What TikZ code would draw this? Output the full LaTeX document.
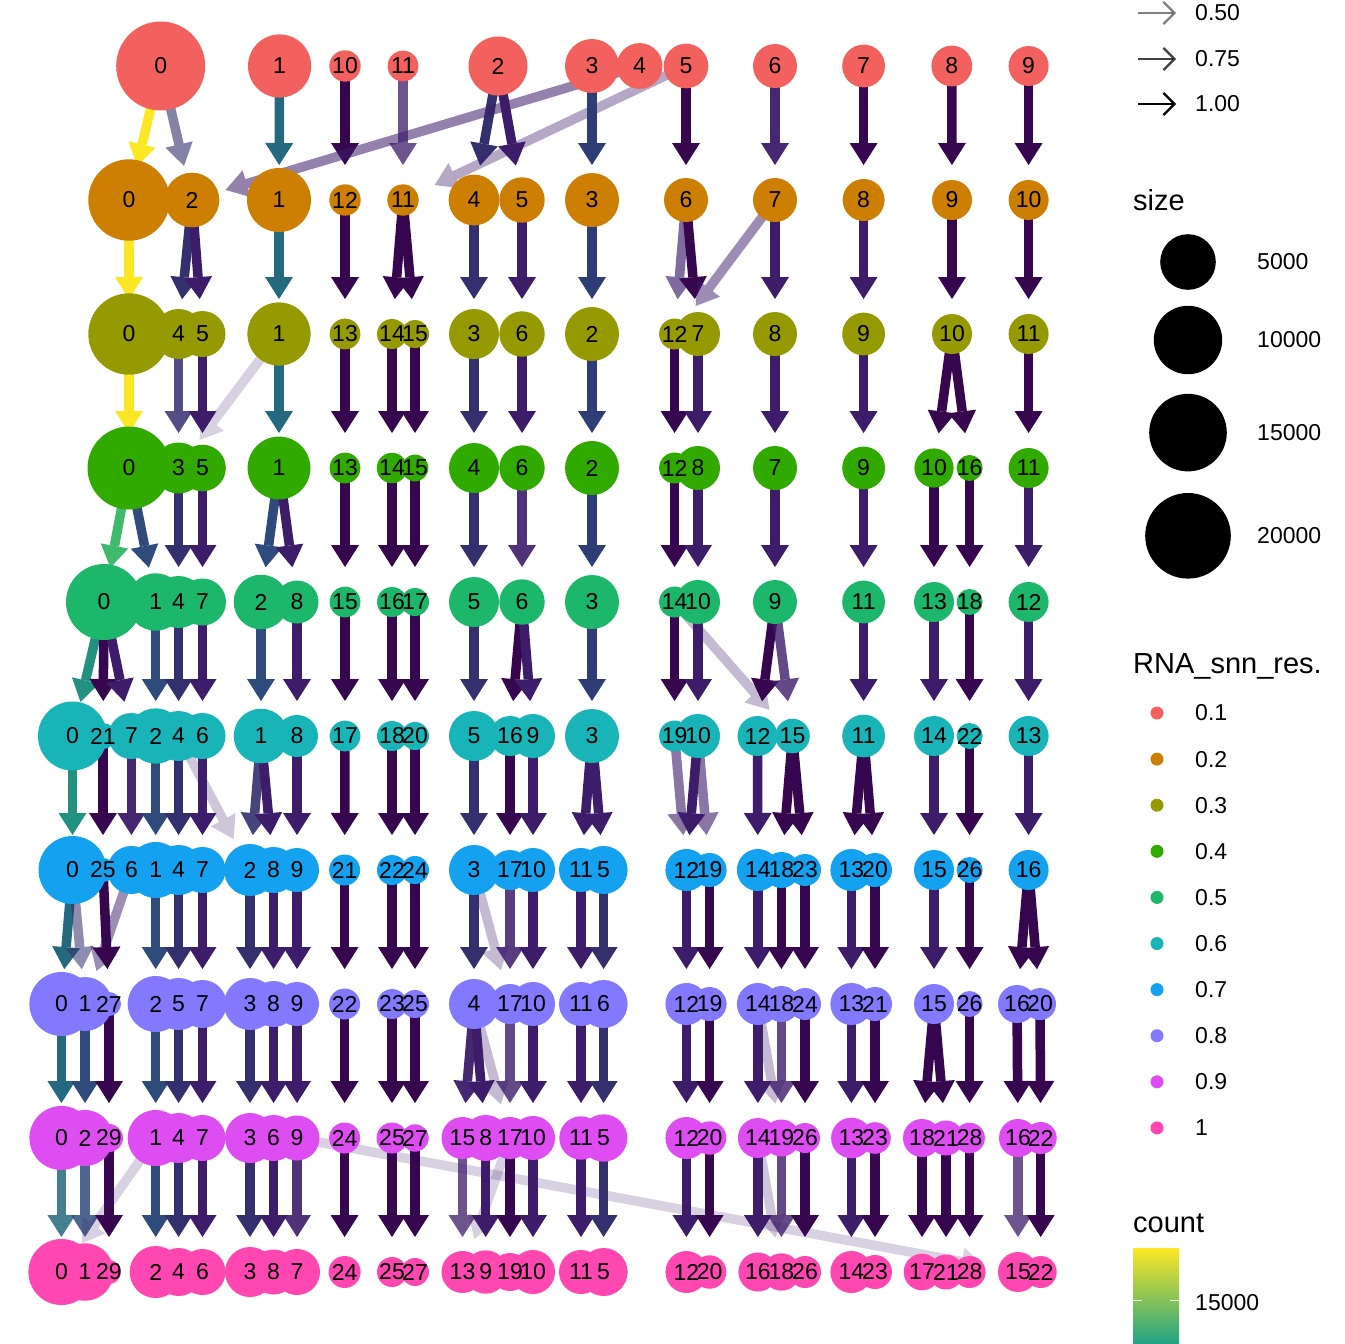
\documentclass[tikz,border=0pt]{standalone}
\usepackage{fontspec}
\setmainfont{Liberation Sans}
\usetikzlibrary{arrows.meta}

% node colours, one per resolution
\definecolor{res1}{HTML}{F2615D}
\definecolor{res2}{HTML}{CD7F04}
\definecolor{res3}{HTML}{959A03}
\definecolor{res4}{HTML}{31AA00}
\definecolor{res5}{HTML}{1DB76C}
\definecolor{res6}{HTML}{19B4B8}
\definecolor{res7}{HTML}{14A1F0}
\definecolor{res8}{HTML}{8379FF}
\definecolor{res9}{HTML}{DE4DF1}
\definecolor{res10}{HTML}{FE47B1}
% edge colours (count)
\definecolor{ecY}{HTML}{FDE725}
\definecolor{ecG}{HTML}{3FBA6C}
\definecolor{ecT}{HTML}{22917F}
\definecolor{ecTd}{HTML}{24697D}
\definecolor{ecB}{HTML}{2E4B7C}
\definecolor{ecBi}{HTML}{2F3D77}
\definecolor{ecV}{HTML}{34306E}
\definecolor{ecP}{HTML}{3D1C6A}
\definecolor{ecD}{HTML}{36064E}
\definecolor{barmid}{HTML}{5CC863}
\definecolor{barlow}{HTML}{20A386}

\pgfdeclarelayer{edgelayer}
\pgfdeclarelayer{textlayer}
\pgfsetlayers{edgelayer,main,textlayer}

\tikzset{
  clu/.style={circle, draw=none, inner sep=0pt, minimum size=2*#1*1pt},
  lnk/.style={line width=9.5pt, shorten >=35pt, -{Triangle[length=22pt,width=28pt,line width=0pt]}},
  num/.style={inner sep=0pt, font=\fontsize{23}{23}\selectfont},
  leg/.style={inner sep=0pt, anchor=west, font=\fontsize{23}{23}\selectfont},
  ttl/.style={inner sep=0pt, anchor=base west, font=\fontsize{29}{29}\selectfont}
}

\begin{document}
\begin{tikzpicture}[x=1pt, y=-1pt]
\useasboundingbox (0,0) rectangle (1344,1344);

% res 0.1
\foreach \n/\x/\r in {0/160.7/44.5, 1/279.6/31.6, 10/345/15.7, 11/403/15.4, 2/498/29.5, 3/592/27, 4/639.6/22.9, 5/686/22.3, 6/775/22, 7/863.6/21.4, 8/951.8/20.4, 9/1028.6/20}{
  \node[clu=\r, fill=res1] (a\n) at (\x,66) {};
  \begin{pgfonlayer}{textlayer}\node[num] (ta\n) at (a\n) {\n};\end{pgfonlayer}
}
% res 0.2
\foreach \n/\x/\r in {0/129/40.7, 2/192/27.3, 1/279/32, 12/345/15.7, 11/403/15.7, 4/474/25.4, 5/522/22.7, 3/592/27, 6/686/22, 7/775/22, 8/863.6/21, 9/952/20, 10/1028.6/20}{
  \node[clu=\r, fill=res2] (b\n) at (\x,200) {};
  \begin{pgfonlayer}{textlayer}\node[num] (tb\n) at (b\n) {\n};\end{pgfonlayer}
}
% res 0.3
\foreach \n/\x/\r in {0/129/40.7, 4/178.6/25, 5/202.5/23, 1/279/31.6, 13/345/15.4, 14/392/15, 15/415/14, 3/474/25, 6/522/22.7, 2/592/27, 12/674.6/15.5, 7/698/22, 8/775/22, 9/863.6/21.4, 10/952/20, 11/1028.6/20}{
  \node[clu=\r, fill=res3] (c\n) at (\x,334) {};
  \begin{pgfonlayer}{textlayer}\node[num] (tc\n) at (c\n) {\n};\end{pgfonlayer}
}
% res 0.4
\foreach \n/\x/\r in {0/129/41.5, 3/178.6/25.5, 5/202.5/23.3, 1/279/31.4, 13/345/15.4, 14/392/15.2, 15/415/13.4, 4/474/25, 6/522/22.7, 2/592/27, 12/674.6/15.5, 8/698/22, 7/775/22, 9/863.6/21.4, 10/934/19.6, 16/969.6/13, 11/1028.6/20}{
  \node[clu=\r, fill=res4] (d\n) at (\x,468) {};
  \begin{pgfonlayer}{textlayer}\node[num] (td\n) at (d\n) {\n};\end{pgfonlayer}
}
% res 0.5
\foreach \n/\x/\r in {0/104/38, 1/155.7/28.7, 4/178.6/26, 7/202.5/23.5, 2/261/27.3, 8/297/21.5, 15/345/15.4, 16/392/15, 17/415/14, 5/474/25, 6/522/22.7, 3/592/27, 14/674.6/15.5, 10/698/22, 9/775/22, 11/863.6/21.4, 13/934/20, 18/969.6/13, 12/1028.6/20}{
  \node[clu=\r, fill=res5] (e\n) at (\x,602) {};
  \begin{pgfonlayer}{textlayer}\node[num] (te\n) at (e\n) {\n};\end{pgfonlayer}
}
% res 0.6
\foreach \n/\x/\r in {0/72.5/34.5, 21/103/13, 7/131.4/23, 2/155.7/27.7, 4/178.6/25, 6/202.5/23, 1/261/27.3, 8/297/21, 17/345/15.4, 18/392/15, 20/415/14, 5/474/25, 16/510/20, 9/533/22, 3/592/27, 19/674.6/15.5, 10/698/22, 12/757.5/20, 15/792.5/17.3, 11/863.6/21.4, 14/934/20, 22/969.6/13, 13/1028.6/20}{
  \node[clu=\r, fill=res6] (f\n) at (\x,736) {};
  \begin{pgfonlayer}{textlayer}\node[num] (tf\n) at (f\n) {\n};\end{pgfonlayer}
}
% res 0.7
\foreach \n/\x/\r in {0/72.5/34, 25/103/12, 6/131.4/24, 1/155.7/28, 4/178.6/25, 7/202.5/23, 2/250/26, 8/273.6/23, 9/297/22, 21/344.6/15.5, 22/392/15, 24/415/14, 3/474/25, 17/510/20, 10/533/22, 11/581/22, 5/603.6/24, 12/686.4/21, 19/709.6/17, 14/757.9/21, 18/781.4/18, 23/805/16, 13/851.4/21, 20/875/17, 15/934/20, 26/969.6/13, 16/1028.6/20}{
  \node[clu=\r, fill=res7] (g\n) at (\x,870) {};
  \begin{pgfonlayer}{textlayer}\node[num] (tg\n) at (g\n) {\n};\end{pgfonlayer}
}
% res 0.8
\foreach \n/\x/\r in {0/61.4/32, 1/85/27, 27/109/12, 2/155.7/28, 5/178.6/26, 7/202.5/24, 3/250/26, 8/273.6/23, 9/297/22, 22/344.6/15.5, 23/392/15, 25/415/14, 4/474/25, 17/510/20, 10/533/22, 11/581/22, 6/603.6/24, 12/686.4/21, 19/709.6/17, 14/757.9/21, 18/781.4/18, 24/805/16, 13/851.4/21, 21/875/17, 15/934/20, 26/969.6/13, 16/1017/19, 20/1040/16}{
  \node[clu=\r, fill=res8] (h\n) at (\x,1004) {};
  \begin{pgfonlayer}{textlayer}\node[num] (th\n) at (h\n) {\n};\end{pgfonlayer}
}
% res 0.9
\foreach \n/\x/\r in {0/61.4/32, 2/85/28, 29/109/14, 1/155.7/28, 4/178.6/25, 7/202.5/23, 3/250/25, 6/273.6/23, 9/297/22.5, 24/344.6/15.5, 25/392/15.5, 27/415/13.7, 15/462.5/21, 8/485.7/23, 17/510/21, 10/533/22, 11/581/21.7, 5/603.6/23.7, 12/686.4/21, 20/709.6/16.7, 14/757.9/20, 19/781.4/18.5, 26/805/15, 13/851.4/20.3, 23/875/15.8, 18/922/19, 21/946/17.5, 28/969.6/15.3, 16/1018/19, 22/1040.7/16}{
  \node[clu=\r, fill=res9] (i\n) at (\x,1138) {};
  \begin{pgfonlayer}{textlayer}\node[num] (ti\n) at (i\n) {\n};\end{pgfonlayer}
}
% res 1
\foreach \n/\x/\r in {0/61.4/33, 1/85/28.7, 29/109/12, 2/155.7/26, 4/178.6/24, 6/202.5/23, 3/250/25, 8/273.6/22.5, 7/297/23, 24/344.6/16, 25/392/15, 27/415/14, 13/462.5/21, 9/485.7/21.7, 19/510/19, 10/533/22, 11/581/22, 5/603.6/24, 12/686.4/21, 20/709.6/16.7, 16/757.9/19.5, 18/781.4/18.7, 26/805/16, 14/851.4/21, 23/875/17, 17/922/18.3, 21/946/17.5, 28/969.6/16, 15/1018/20, 22/1040.7/16}{
  \node[clu=\r, fill=res10] (j\n) at (\x,1272) {};
  \begin{pgfonlayer}{textlayer}\node[num] (tj\n) at (j\n) {\n};\end{pgfonlayer}
}

% edges: source/target/colour/opacity
\begin{pgfonlayer}{edgelayer}
\fill[white] (0,0) rectangle (1344,1344);
\foreach \s/\t/\c/\o in {
  a0/b0/ecY/1, a0/b2/ecV/0.6, a1/b1/ecTd/1, a10/b12/ecD/1, a11/b11/ecP/0.75, a2/b4/ecV/1, a2/b5/ecP/1, a4/b2/ecP/0.55, a5/b11/ecP/0.38, a3/b3/ecBi/1, a5/b6/ecD/1, a6/b7/ecP/0.95, a7/b8/ecD/1, a8/b9/ecD/1, a9/b10/ecD/1,
  b0/c0/ecY/1, b2/c4/ecV/1, b2/c5/ecP/1, b1/c1/ecTd/1, b12/c13/ecD/1, b11/c14/ecD/1, b11/c15/ecD/1, b4/c3/ecV/1, b5/c6/ecP/1, b3/c2/ecBi/1, b6/c12/ecP/0.65, b6/c7/ecD/1, b7/c12/ecP/0.5, b7/c8/ecP/1, b8/c9/ecP/1, b9/c10/ecD/1, b10/c11/ecD/1,
  c0/d0/ecY/1, c4/d3/ecV/0.85, c5/d5/ecP/1, c1/d1/ecTd/1, c1/d3/ecP/0.2, c13/d13/ecD/1, c14/d14/ecD/1, c15/d15/ecD/1, c3/d4/ecV/1, c6/d6/ecP/1, c2/d2/ecBi/1, c12/d12/ecD/1, c7/d8/ecP/1, c8/d7/ecP/1, c9/d9/ecP/1, c10/d10/ecD/1, c10/d16/ecD/1, c11/d11/ecD/1,
  d0/e0/ecG/1, d0/e1/ecB/1, d3/e4/ecV/1, d5/e7/ecP/1, d1/e2/ecB/1, d1/e8/ecP/1, d13/e15/ecD/1, d14/e16/ecD/1, d15/e17/ecD/1, d4/e5/ecV/1, d6/e6/ecP/0.9, d2/e3/ecBi/1, d12/e14/ecD/1, d8/e10/ecP/1, d7/e9/ecP/1, d9/e11/ecP/1, d10/e13/ecD/1, d16/e18/ecD/1, d11/e12/ecP/1,
  e0/f0/ecT/1, e0/f21/ecD/1, e0/f7/ecP/1, e1/f2/ecB/1, e4/f4/ecV/1, e7/f6/ecP/1, e2/f1/ecB/1, e8/f8/ecP/1, e15/f17/ecD/1, e16/f18/ecD/1, e17/f20/ecD/1, e5/f5/ecV/1, e6/f16/ecD/1, e6/f9/ecP/1, e3/f3/ecBi/1, e14/f19/ecD/1, e14/f15/ecP/0.3, e10/f10/ecP/1, e9/f12/ecD/1, e9/f15/ecP/0.8, e11/f11/ecP/1, e13/f14/ecP/1, e18/f22/ecD/1, e12/f13/ecP/1,
  f0/g0/ecT/1, f21/g25/ecD/1, f7/g6/ecP/0.95, f2/g1/ecB/1, f4/g4/ecV/1, f6/g7/ecP/1, f4/g2/ecP/0.25, f1/g2/ecV/0.9, f1/g8/ecP/1, f8/g9/ecP/1, f17/g21/ecD/1, f18/g22/ecD/1, f20/g24/ecD/1, f5/g3/ecV/1, f16/g17/ecD/1, f9/g10/ecP/1, f3/g11/ecP/1, f3/g5/ecP/1, f19/g12/ecP/0.6, f10/g12/ecP/1, f10/g19/ecP/0.6, f12/g14/ecP/1, f15/g18/ecD/1, f15/g23/ecD/1, f11/g13/ecD/1, f11/g20/ecD/1, f14/g15/ecP/1, f22/g26/ecD/1, f13/g16/ecP/1,
  g0/h0/ecTd/1, g0/h1/ecV/0.55, g6/h1/ecP/0.5, g25/h27/ecD/1, g1/h2/ecB/1, g4/h5/ecV/1, g7/h7/ecP/1, g2/h3/ecV/1, g8/h8/ecP/1, g9/h9/ecP/1, g21/h22/ecD/1, g22/h23/ecD/1, g24/h25/ecD/1, g3/h4/ecV/1, g3/h17/ecP/0.3, g17/h17/ecP/0.85, g10/h10/ecP/1, g11/h11/ecP/1, g5/h6/ecV/1, g12/h12/ecP/1, g19/h19/ecD/1, g14/h14/ecP/1, g18/h18/ecD/1, g23/h24/ecD/1, g13/h13/ecP/1, g20/h21/ecD/1, g15/h15/ecP/1, g26/h26/ecD/1, g16/h16/ecD/1, g16/h20/ecD/1,
  h0/i0/ecTd/1, h1/i2/ecB/1, h27/i29/ecD/1, h2/i1/ecB/1, h5/i4/ecV/1, h7/i7/ecP/1, h3/i3/ecV/1, h8/i6/ecP/1, h9/i9/ecP/1, h22/i24/ecD/1, h23/i25/ecD/1, h25/i27/ecD/1, h4/i15/ecP/0.95, h4/i8/ecP/1, h4/i17/ecP/0.3, h17/i17/ecP/0.8, h10/i10/ecP/1, h11/i11/ecP/1, h6/i5/ecV/1, h12/i12/ecP/1, h19/i20/ecD/1, h14/i14/ecP/1, h14/i19/ecP/0.3, h18/i19/ecP/0.8, h24/i26/ecD/1, h13/i13/ecP/1, h21/i23/ecD/1, h15/i18/ecD/1, h15/i21/ecD/1, h26/i28/ecD/1, h16/i16/ecD/1, h20/i22/ecD/1,
  i0/j0/ecTd/0.85, i2/j1/ecB/0.85, i29/j29/ecD/1, i1/j2/ecB/1, i1/j0/ecP/0.2, i4/j4/ecV/1, i7/j6/ecP/1, i3/j3/ecV/1, i6/j8/ecP/1, i9/j7/ecP/0.9, i9/j15/ecP/0.2, i24/j24/ecD/1, i25/j25/ecD/1, i27/j27/ecD/1, i15/j13/ecP/0.75, i8/j9/ecP/1, i17/j19/ecD/1, i17/j13/ecP/0.2, i10/j10/ecP/1, i11/j11/ecP/1, i5/j5/ecV/1, i12/j12/ecP/1, i20/j20/ecD/1, i14/j16/ecP/1, i14/j18/ecP/0.25, i19/j18/ecP/0.8, i26/j26/ecD/1, i13/j14/ecP/1, i23/j23/ecD/1, i18/j17/ecD/1, i21/j21/ecD/1, i28/j28/ecD/1, i16/j15/ecP/0.75, i22/j22/ecD/1}
  \draw[lnk, color=\c, opacity=\o] (\s.center) -- (\t.center);
\end{pgfonlayer}

% legend: edge opacity
\foreach \yy/\v [count=\k] in {13/0.50, 59/0.75, 104/1.00}{
  \coordinate (ps\k) at (1138,\yy);
  \coordinate (pe\k) at (1176,\yy);
  \draw[line width=2.2pt, opacity=\v, -{Straight Barb[length=11pt,width=22pt]}] (ps\k) -- (pe\k);
  \node[leg] (pl\k) at (1195,\yy) {\v};
}

% legend: size
\node[ttl] (sizettl) at (1133,210.5) {size};
\foreach \yy/\r/\v [count=\k] in {262/27.8/5000, 340/34.2/10000, 432.6/38.8/15000, 535.8/42.8/20000}{
  \node[clu=\r, fill=black] (sz\k) at (1188,\yy) {};
  \node[leg] (szl\k) at (1257,\yy) {\v};
}

% legend: resolution
\node[ttl] (resttl) at (1133,673) {RNA\_snn\_res.};
\foreach \v [count=\k] in {0.1,0.2,0.3,0.4,0.5,0.6,0.7,0.8,0.9,1}{
  \node[clu=6.5, fill=res\k] (dot\k) at (1157,{713+(\k-1)*46.1}) {};
  \node[leg] (dotl\k) at (1195,{713+(\k-1)*46.1}) {\v};
}

% legend: count
\node[ttl] (cntttl) at (1133,1232) {count};
\shade[top color=ecY, middle color=barmid, bottom color=barlow] (1133,1248) rectangle (1179,1344);
\draw[white, line width=1pt] (1133,1300) -- (1142,1300) (1170,1300) -- (1179,1300);
\node[leg] (cntl) at (1195,1303) {15000};

\end{tikzpicture}
\end{document}
